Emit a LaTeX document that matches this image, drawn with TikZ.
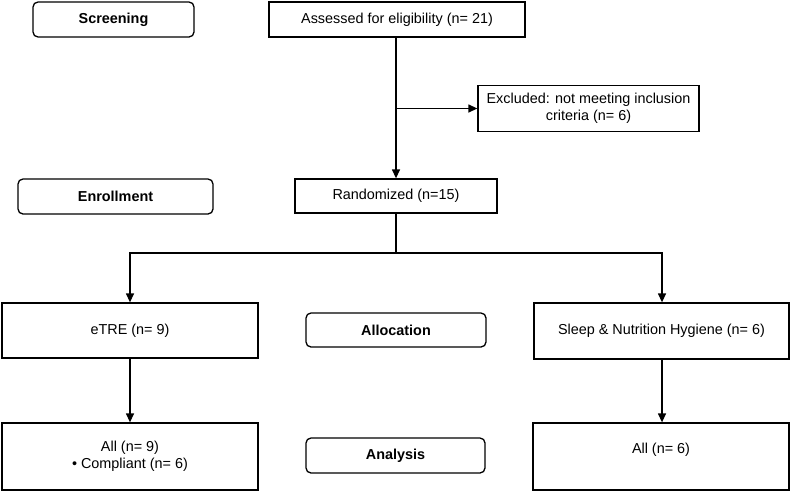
\documentclass[tikz,border=0pt]{standalone}
\usepackage{fontspec}
\setmainfont{Liberation Sans}
\usetikzlibrary{calc, arrows.meta}
\tikzset{
  box/.style={draw, line width=1.3pt, align=center, inner sep=2pt,
    font=\fontsize{14.4}{17}\selectfont},
  stage/.style={box, rounded corners=5pt, font=\fontsize{14.4}{17}\selectfont\bfseries},
  arr/.style={line width=1.3pt, -{Triangle[length=9pt,width=8pt]}},
  ln/.style={line width=1.3pt}
}

\begin{document}
\begin{tikzpicture}[x=1pt,y=-1pt]
            \useasboundingbox (0,0) rectangle (791,493);
            % phase labels
            \node[stage, minimum width=161pt, minimum height=35pt] (screen) at (113.5,19.5) {Screening};
            \node[stage, minimum width=195pt, minimum height=35pt] (enroll) at (115.5,196.5) {Enrollment};
            \node[stage, minimum width=180pt, minimum height=34pt] (alloc) at (396,330) {Allocation};
            \node[stage, minimum width=179pt, minimum height=35pt] (anal) at (395.5,455.5) {Analysis};
            % flow boxes
            \node[box, minimum width=256pt, minimum height=35pt] (assess) at (397,19.5) {Assessed for eligibility (n= 21)};
            \node[box, minimum width=221pt, minimum height=46pt] (excl) at (588.5,108.5) {Excluded: not meeting inclusion\\criteria (n= 6)};
            \node[box, minimum width=202pt, minimum height=34pt] (rand) at (396,196) {Randomized (n=15)};
            \node[box, minimum width=256pt, minimum height=55pt] (etre) at (130,330.5) {eTRE (n= 9)};
            \node[box, minimum width=255pt, minimum height=56pt] (sleep) at (661.5,331) {Sleep \& Nutrition Hygiene (n= 6)};
            \node[box, minimum width=256pt, minimum height=67pt] (all9) at (130,456.5) {All (n= 9)\\\textbullet\ Compliant (n= 6)};
            \node[box, minimum width=256pt, minimum height=67pt] (all6) at (661,456.5) {All (n= 6)\\\mbox{}};
            % connectors
            \coordinate (br) at (rand.north |- excl.west);
            \coordinate (sp) at (396,253);
            \draw[arr] (assess.south -| rand.north) -- (rand.north);
            \draw[arr] (br) -- (excl.west);
            \draw[ln] (rand.south) -- (sp);
            \draw[arr] (sp) -| (etre.north);
            \draw[arr] (sp) -| ($(sleep.north)+(0.5,0)$);
            \draw[arr] (etre.south) -- (all9.north);
            \draw[arr] ($(sleep.south)+(0.5,0)$) -- ($(all6.north)+(1,0)$);
        \end{tikzpicture}
\end{document}
